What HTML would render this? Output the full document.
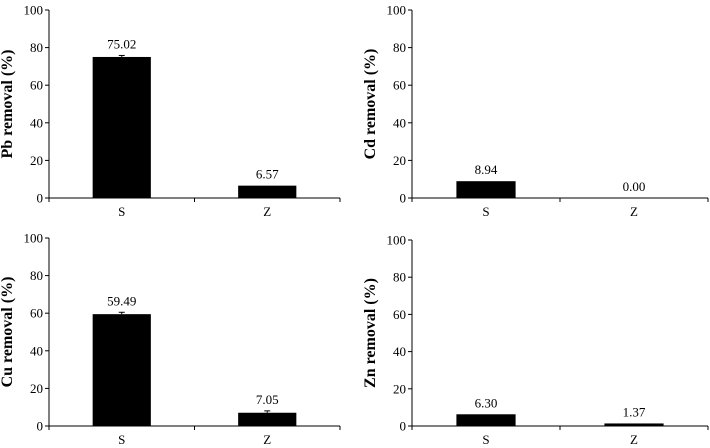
<!DOCTYPE html>
<html><head><meta charset="utf-8"><style>
body{margin:0;background:#fff}
svg{display:block;font-family:"Liberation Serif",serif}
</style></head><body>
<svg id="c" width="710" height="448"></svg>
<script>
const categories=["S","Z"];
const metals=["Pb","Cd","Cu","Zn"];
const pbValues=[75.02,6.57];
const cdValues=[8.94,0.00];
const cuValues=[59.49,7.05];
const znValues=[6.30,1.37];
const pbErrors=[0.8,0];
const cdErrors=[0,0];
const cuErrors=[1.0,1.0];
const znErrors=[0,0];
const yTicks=[0,20,40,60,80,100];
const allValues=[pbValues,cdValues,cuValues,znValues];
const allErrors=[pbErrors,cdErrors,cuErrors,znErrors];
const NS="http://www.w3.org/2000/svg";
const svg=document.getElementById('c');
function mk(t,a,p){const e=document.createElementNS(NS,t);for(const k in a)e.setAttribute(k,a[k]);(p||svg).appendChild(e);return e;}
const panels=[{x0:49,x1:340,y0:198,y1:10},{x0:412,x1:708,y0:198,y1:10},{x0:49,x1:340,y0:426,y1:238},{x0:412,x1:708,y0:426,y1:240}];
panels.forEach((P,pi)=>{
  const g=mk('g',{});
  
  
  const yS=v=>P.y0-(v/100)*(P.y0-P.y1);
  const cw=(P.x1-P.x0)/categories.length;
  const xC=i=>P.x0+cw*(i+0.5);
  const ax=mk('line',{x1:P.x0,y1:P.y1,x2:P.x0,y2:P.y0,stroke:'#000','stroke-width':1},g);
  
  const bx=mk('line',{x1:P.x0,y1:P.y0,x2:P.x1,y2:P.y0,stroke:'#000','stroke-width':1},g);
  
  yTicks.forEach(t=>{
    mk('line',{x1:P.x0-4,x2:P.x0,y1:yS(t),y2:yS(t),stroke:'#000'},g);
    const tx=mk('text',{x:P.x0-6,y:yS(t)+4.5,'text-anchor':'end','font-size':13},g);
    tx.textContent=t;
    
  });
  for(let i=0;i<=categories.length;i++)mk('line',{x1:P.x0+cw*i,x2:P.x0+cw*i,y1:P.y0,y2:P.y0+4,stroke:'#000'},g);
  const vals=allValues[pi],errs=allErrors[pi];
  categories.forEach((c,i)=>{
    const bw=cw*0.4,v=vals[i];
    const b=mk('rect',{x:xC(i)-bw/2,y:yS(v),width:bw,height:P.y0-yS(v),fill:'#000'},g);
    
    
    if(errs[i]>0){
      mk('line',{x1:xC(i),x2:xC(i),y1:yS(v+errs[i]),y2:yS(v),stroke:'#000'},g);
      mk('line',{x1:xC(i)-3,x2:xC(i)+3,y1:yS(v+errs[i]),y2:yS(v+errs[i]),stroke:'#000'},g);
    }
    const lt=mk('text',{x:xC(i),y:yS(v+errs[i])-7,'text-anchor':'middle','font-size':13},g);
    lt.textContent=v.toFixed(2);
    
    const xt=mk('text',{x:xC(i),y:P.y0+18,'text-anchor':'middle','font-size':13},g);
    xt.textContent=c;
    
  });
  const cy=(P.y0+P.y1)/2, tx=P.x0-37;
  const tt=mk('text',{x:tx,y:cy,'text-anchor':'middle','font-size':16,'font-weight':'bold',transform:`rotate(-90 ${tx} ${cy})`},g);
  tt.textContent=metals[pi]+' removal (%)';
  
});
</script>
</body></html>
